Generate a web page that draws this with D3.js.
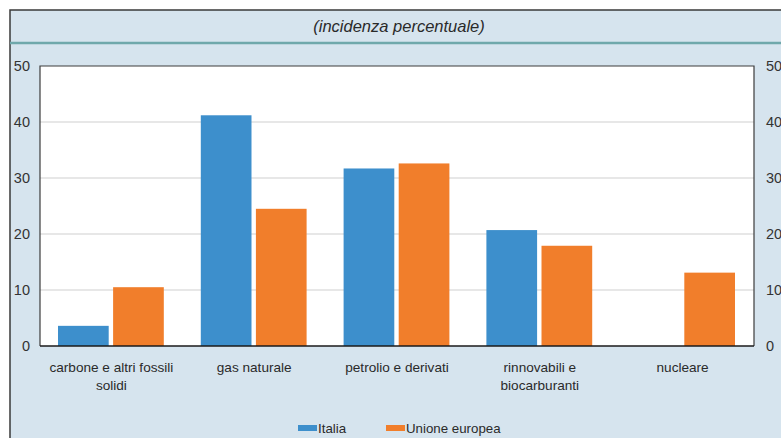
<!DOCTYPE html>
<html>
<head>
<meta charset="utf-8">
<script src="https://cdn.jsdelivr.net/npm/d3@7"></script>
<style>
  html, body { margin: 0; padding: 0; background: #ffffff; }
  svg { display: block; }
</style>
</head>
<body>
<svg id="chart" width="781" height="438"></svg>
<script>
// Energy mix: share of each source (%)
const categories = [
  ["carbone e altri fossili", "solidi"],
  ["gas naturale"],
  ["petrolio e derivati"],
  ["rinnovabili e", "biocarburanti"],
  ["nucleare"]
];
const seriesNames = ["Italia", "Unione europea"];
const italia = [3.6, 41.2, 31.7, 20.7, 0];
const unioneEuropea = [10.5, 24.5, 32.6, 17.9, 13.1];
const yTicks = [0, 10, 20, 30, 40, 50];
const subtitle = "(incidenza percentuale)";

const colors = { "Italia": "#3d8fcc", "Unione europea": "#f17e2b" };
const font = "'Liberation Sans', Arial, sans-serif";

const svg = d3.select("#chart");
const W = 781, H = 438;

// Panel background and frame
svg.append("rect").attr("x", 10).attr("y", 10).attr("width", W).attr("height", H)
  .attr("fill", "#d6e4ee").attr("stroke", "#3a3a3a").attr("stroke-width", 1.5);

svg.append("text").attr("x", 399).attr("y", 32)
  .attr("text-anchor", "middle").attr("font-family", font)
  .attr("font-style", "italic").attr("font-size", 16.5).attr("fill", "#2a2a2a")
  .text(subtitle);

svg.append("line").attr("x1", 10).attr("x2", W).attr("y1", 43).attr("y2", 43)
  .attr("stroke", "#6fa8ab").attr("stroke-width", 2.5);

const plot = { left: 40, right: 754, top: 66, bottom: 346 };

const x = d3.scaleBand().domain(d3.range(categories.length))
  .range([plot.left, plot.right]).paddingInner(0).paddingOuter(0);
const xs = d3.scaleBand().domain(seriesNames)
  .range([18, x.bandwidth() - 19]).paddingInner(0.08);
const y = d3.scaleLinear().domain([0, 50]).range([plot.bottom, plot.top]);

// Plot background
svg.append("rect").attr("x", plot.left).attr("y", plot.top)
  .attr("width", plot.right - plot.left).attr("height", plot.bottom - plot.top)
  .attr("fill", "#ffffff");

// Gridlines
svg.append("g").selectAll("line").data(yTicks.filter(t => t > 0 && t < 50)).join("line")
  .attr("x1", plot.left).attr("x2", plot.right)
  .attr("y1", d => y(d)).attr("y2", d => y(d))
  .attr("stroke", "#cfcfcf").attr("stroke-width", 1.2);

// Bars
const rows = categories.map((c, i) => ({ i, values: [italia[i], unioneEuropea[i]] }));
const groups = svg.append("g").selectAll("g").data(rows).join("g")
  .attr("transform", d => `translate(${x(d.i)},0)`);
groups.selectAll("rect")
  .data(d => seriesNames.map((s, k) => ({ s, v: d.values[k] })).filter(e => e.v > 0))
  .join("rect")
  .attr("x", d => xs(d.s)).attr("width", xs.bandwidth())
  .attr("y", d => y(d.v)).attr("height", d => y(0) - y(d.v))
  .attr("fill", d => colors[d.s]);

// Plot frame
svg.append("path")
  .attr("d", `M${plot.left},${plot.bottom}V${plot.top}H${plot.right}V${plot.bottom}`)
  .attr("fill", "none").attr("stroke", "#3c3c3c").attr("stroke-width", 1.2);
svg.append("line").attr("x1", plot.left).attr("x2", plot.right)
  .attr("y1", plot.bottom).attr("y2", plot.bottom)
  .attr("stroke", "#1a1a1a").attr("stroke-width", 1.6);

// Axes
const leftAxis = d3.axisLeft(y).tickValues(yTicks).tickSize(0).tickPadding(10);
const rightAxis = d3.axisRight(y).tickValues(yTicks).tickSize(0).tickPadding(12);
const styleAxis = g => {
  g.select(".domain").remove();
  g.selectAll("text").attr("font-family", font).attr("font-size", 14.5).attr("fill", "#333");
};
svg.append("g").attr("transform", `translate(${plot.left},0)`).call(leftAxis).call(styleAxis);
svg.append("g").attr("transform", `translate(${plot.right},0)`).call(rightAxis).call(styleAxis);

// Category labels
const labels = svg.append("g").selectAll("text").data(categories).join("text")
  .attr("text-anchor", "middle").attr("font-family", font).attr("font-size", 13.6)
  .attr("fill", "#2a2a2a")
  .attr("transform", (d, i) => `translate(${x(i) + x.bandwidth() / 2},372)`);
labels.selectAll("tspan").data(d => d).join("tspan")
  .attr("x", 0).attr("dy", (d, k) => k === 0 ? 0 : 18).text(d => d);

// Legend
const legendX = [298, 386];
const legend = svg.append("g").selectAll("g").data(seriesNames).join("g")
  .attr("transform", (d, k) => `translate(${legendX[k]},0)`);
legend.append("rect").attr("x", 0).attr("y", 425).attr("width", 19).attr("height", 6)
  .attr("fill", d => colors[d]);
legend.append("text").attr("x", 20).attr("y", 433).attr("font-family", font)
  .attr("font-size", 13.3).attr("fill", "#2a2a2a").text(d => d);
</script>
</body>
</html>
